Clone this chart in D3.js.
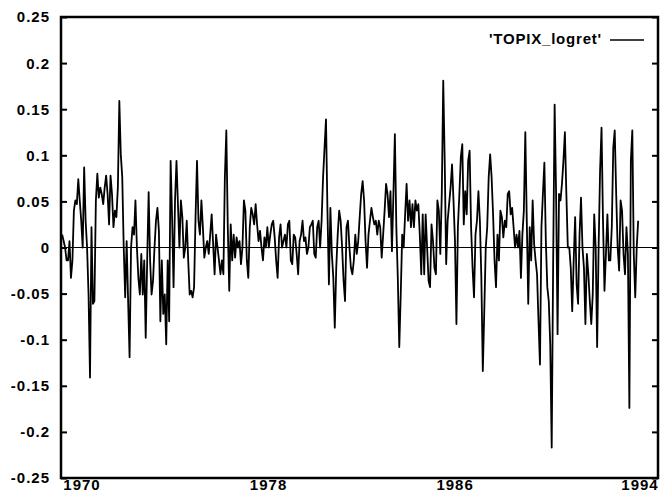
<!DOCTYPE html>
<html>
<head>
<meta charset="utf-8">
<script src="https://cdn.jsdelivr.net/npm/d3@7"></script>
<style>
  html, body { margin: 0; padding: 0; background: #fff; }
  svg { display: block; }
  text { font-family: "Liberation Sans", Arial, sans-serif; font-weight: bold; fill: #000; }
</style>
</head>
<body>
<svg id="chart" width="662" height="492"></svg>
<script>
// ---- data ----
const seriesName = "'TOPIX_logret'";
const firstObs = 1969.15;   // decimal year of first observation
const lastObs = 1993.85;    // decimal year of last observation
const xTickYears = [1970, 1978, 1986, 1994];
const yTickValues = [-0.25, -0.2, -0.15, -0.1, -0.05, 0, 0.05, 0.1, 0.15, 0.2, 0.25];
const yTickLabels = ["-0.25", "-0.2", "-0.15", "-0.1", "-0.05", "0", "0.05", "0.1", "0.15", "0.2", "0.25"];

const returns1969 = [0.014, 0.007, 0, -0.014, -0.014, 0.007, -0.033, -0.014, 0.040, 0.051,
  0.047, 0.074, 0.051, 0.029, 0, 0.087, 0.029, 0, -0.051, -0.141,
  0.022, -0.061, -0.058, 0.051, 0.080, 0.054, 0.065, 0.058, 0.047, 0.065,
  0.078, 0.058, 0.025, 0.078, 0.058, 0.022, 0.040, 0.033, 0.065, 0.159,
  0.101, 0.076, 0, -0.054, 0.007, -0.058, -0.119, 0, 0.022, 0.014,
  0.051, 0, -0.033, -0.051, -0.007, -0.051, -0.014, -0.098, -0.014, 0.060,
  -0.014, -0.051, -0.036, 0, 0.029, 0.043, 0.018, -0.080, -0.014, -0.072,
  -0.051, -0.105, -0.014, -0.080, 0.094, 0.033, -0.043, 0.051, 0.094, 0.047,
  0, 0.051];
const returns1974 = [0.033, -0.011, 0, 0.029, -0.014, -0.051, -0.047, -0.054, -0.043, 0.033,
  0.094, 0.029, 0.014, 0.051, 0.022, -0.011, 0, 0.007, -0.007, 0.014,
  0.036, 0.004, -0.029, 0.014, 0, -0.014, -0.029, -0.014, -0.029, 0.076,
  0.127, 0.022, -0.047, 0.025, -0.014, 0.014, -0.011, 0.011, 0, 0.007,
  -0.018, 0, 0.051, 0.040, -0.014, -0.033, 0.022, 0.043, 0.036, 0.025,
  0.047, 0.025, 0.007, 0.018, 0, -0.014, 0.011, 0, 0.022, 0,
  0.014, 0.025, 0.029, 0.011, -0.014, -0.033, 0.011, 0.025, 0, 0.007,
  0.014, 0, 0.025, 0.029, -0.014, -0.018, 0.014, 0.011, -0.007, -0.029,
  0.007, 0.014];
const returns1979 = [0.029, 0.007, 0.011, -0.007, 0, 0.022, 0.025, 0.029, -0.007, -0.011,
  0.022, 0.029, 0, 0.029, 0.076, 0.108, 0.139, 0.040, -0.040, 0.043,
  -0.007, -0.033, -0.087, -0.022, 0.014, 0.040, 0.029, 0, -0.036, -0.058,
  0.022, 0.029, 0, -0.022, -0.029, -0.014, 0.014, -0.007, 0.007, 0.033,
  0.058, 0.072, 0.051, 0.007, -0.022, 0.014, 0.029, 0.043, 0.033, 0.025,
  0.029, 0.014, 0.029, 0.022, -0.011, 0.014, 0.040, 0.069, 0.058, 0.033,
  0.061, -0.004, 0.058, 0.123, 0.022, -0.033, -0.108, -0.051, 0.014, 0,
  0.036, 0.069, 0.029, 0.051, 0.022, 0.047, 0.022, 0.051, 0.040, 0.047,
  0.014, -0.029];
const returns1984 = [0.036, -0.029, 0.036, 0, -0.036, -0.043, 0.025, 0.007, -0.022, -0.029,
  0.051, 0.040, -0.007, 0.058, 0.181, 0.094, -0.018, 0.029, 0.047, 0.065,
  0.090, 0.051, 0.007, -0.083, 0.022, 0.058, 0.098, 0.112, 0.025, 0.061,
  0.036, 0.094, 0.105, 0.022, -0.022, -0.054, 0.014, 0.029, 0.061, 0.029,
  -0.033, -0.134, -0.069, 0, 0.022, 0.076, 0.101, 0.076, 0.036, -0.014,
  -0.043, 0.014, -0.014, 0.040, 0.033, 0.011, 0.029, 0.022, 0.058, 0.061,
  0.036, 0.043, 0.022, 0, 0.014, 0, 0.018, -0.033, 0.014, 0.040,
  0.125, 0.029, -0.061, 0.022, -0.014, 0.051, 0.004, -0.014, -0.029, -0.080,
  -0.127];
const returns1989 = [0.022, 0.058, 0.092, 0.007, -0.043, -0.058, -0.105, -0.217, -0.014, 0.155,
  0.058, -0.094, 0.058, 0.051, 0.069, 0.094, 0.125, 0.058, 0, 0,
  -0.022, -0.069, -0.014, 0.033, -0.040, -0.061, 0.014, 0.054, 0, -0.022,
  -0.083, -0.007, -0.029, -0.058, -0.083, -0.051, 0.036, 0, -0.108, 0,
  0.083, 0.130, 0.029, -0.047, -0.007, 0.036, -0.014, -0.014, 0.022, 0.108,
  0.127, 0.058, 0, -0.025, 0.051, 0.040, -0.007, -0.029, 0.022, -0.007,
  -0.174, 0.094, 0.127, -0.007, -0.054, 0, 0.029];

const values = [].concat(returns1969, returns1974, returns1979, returns1984, returns1989);
const n = values.length;
const data = values.map((v, i) => ({ t: firstObs + i * (lastObs - firstObs) / (n - 1), v }));

// ---- layout ----
const svg = d3.select("#chart");
const L = 61, R = 658, T = 17, B = 478;

const x = d3.scaleLinear().domain([1969.1, 1994.7]).range([L, R]);
const y = d3.scaleLinear().domain([-0.25, 0.25]).range([B, T]);

// zero line
svg.append("line")
  .attr("x1", L).attr("x2", R)
  .attr("y1", y(0)).attr("y2", y(0))
  .attr("stroke", "#000").attr("stroke-width", 1.2);

// series
const line = d3.line().x(d => x(d.t)).y(d => y(d.v));
svg.append("path")
  .datum(data)
  .attr("d", line)
  .attr("fill", "none")
  .attr("stroke", "#000")
  .attr("stroke-width", 1.8)
  .attr("stroke-linejoin", "round");

// left and right axes (inward ticks)
const leftAxis = d3.axisRight(y).tickValues(yTickValues).tickSize(6).tickFormat("");
const gl = svg.append("g").attr("transform", `translate(${L},0)`).call(leftAxis);
const rightAxis = d3.axisLeft(y).tickValues(yTickValues).tickSize(6).tickFormat("");
const gr = svg.append("g").attr("transform", `translate(${R},0)`).call(rightAxis);
[gl, gr].forEach(g => {
  g.select(".domain").remove();
  g.selectAll(".tick line").attr("stroke", "#000").attr("stroke-width", 2);
});

// y labels
svg.append("g").selectAll("text")
  .data(yTickValues)
  .join("text")
  .attr("x", 50)
  .attr("y", d => y(d))
  .attr("dy", "0.36em")
  .attr("text-anchor", "end")
  .attr("font-size", 15)
  .attr("letter-spacing", 1)
  .text((d, i) => yTickLabels[i]);

// x labels
svg.append("g").selectAll("text")
  .data(xTickYears)
  .join("text")
  .attr("x", (d, i) => i === xTickYears.length - 1 ? Math.min(x(d), 640) : x(d))
  .attr("y", 490)
  .attr("text-anchor", "middle")
  .attr("font-size", 15)
  .attr("letter-spacing", 1)
  .text(d => String(d));

// frame
svg.append("rect")
  .attr("x", L).attr("y", T)
  .attr("width", R - L).attr("height", B - T)
  .attr("fill", "none").attr("stroke", "#000").attr("stroke-width", 2.5);

// legend
svg.append("text")
  .attr("x", 602).attr("y", 44)
  .attr("text-anchor", "end")
  .attr("font-size", 15)
  .attr("letter-spacing", 0.8)
  .text(seriesName);
svg.append("line")
  .attr("x1", 610).attr("x2", 644)
  .attr("y1", 40).attr("y2", 40)
  .attr("stroke", "#000").attr("stroke-width", 1.6);
</script>
</body>
</html>
